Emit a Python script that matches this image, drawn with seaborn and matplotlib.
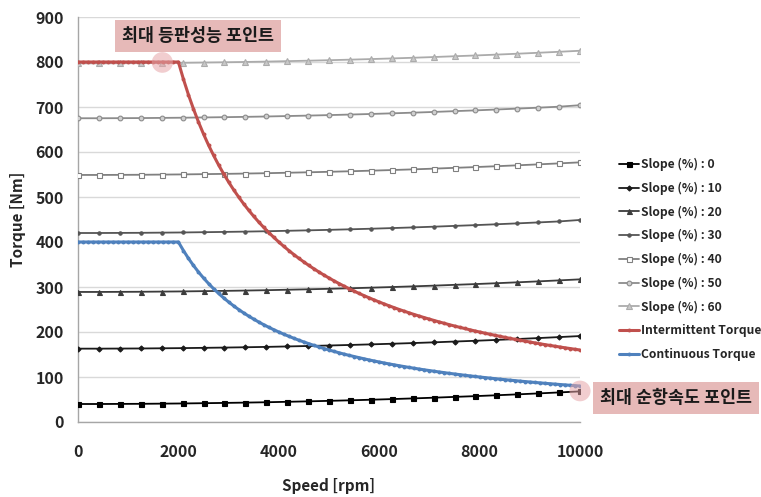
import matplotlib
matplotlib.use("Agg")
import matplotlib.pyplot as plt
from matplotlib.patches import Ellipse
import seaborn as sns

sns.set_theme(style="white")
plt.rcParams['font.family'] = ['Noto Sans CJK KR', 'DejaVu Sans']
plt.rcParams['font.weight'] = 'bold'

# ---- data ---------------------------------------------------------------
slope_speed = [0, 417, 833, 1250, 1667, 2083, 2500, 2917, 3333, 3750, 4167, 4583,
               5000, 5417, 5833, 6250, 6667, 7083, 7500, 7917, 8333, 8750, 9167,
               9583, 10000]

slope_0 = [40, 40, 40.2, 40.4, 40.8, 41.2, 41.8, 42.4, 43.1, 43.9, 44.9, 45.9, 47,
           48.2, 49.5, 50.9, 52.4, 54, 55.8, 57.5, 59.4, 61.4, 63.5, 65.7, 68]
slope_10 = [163, 163, 163.2, 163.4, 163.8, 164.2, 164.8, 165.4, 166.1, 166.9, 167.9,
            168.9, 170, 171.2, 172.5, 173.9, 175.4, 177, 178.8, 180.5, 182.4, 184.4,
            186.5, 188.7, 191]
slope_20 = [289, 289, 289.2, 289.4, 289.8, 290.2, 290.8, 291.4, 292.1, 292.9, 293.9,
            294.9, 296, 297.2, 298.5, 299.9, 301.4, 303, 304.8, 306.5, 308.4, 310.4,
            312.5, 314.7, 317]
slope_30 = [420, 420, 420.2, 420.4, 420.8, 421.2, 421.8, 422.4, 423.1, 423.9, 424.9,
            425.9, 427, 428.2, 429.5, 430.9, 432.4, 434, 435.8, 437.5, 439.4, 441.4,
            443.5, 445.7, 449]
slope_40 = [549, 549, 549.2, 549.4, 549.8, 550.2, 550.8, 551.4, 552.1, 552.9, 553.9,
            554.9, 556, 557.2, 558.5, 559.9, 561.4, 563, 564.8, 566.5, 568.4, 570.4,
            572.5, 574.7, 577]
slope_50 = [675, 675, 675.2, 675.4, 675.8, 676.2, 676.8, 677.4, 678.1, 678.9, 679.9,
            680.9, 682, 683.2, 684.5, 685.9, 687.4, 689, 690.8, 692.5, 694.4, 696.4,
            698.5, 700.7, 704]
slope_60 = [797, 797, 797.2, 797.4, 797.8, 798.2, 798.8, 799.4, 800.1, 800.9, 801.9,
            802.9, 804, 805.2, 806.5, 807.9, 809.4, 811, 812.8, 814.5, 816.4, 818.4,
            820.5, 822.7, 825]

torque_speed = list(range(0, 10001, 100))

intermittent_torque = [
    800, 800, 800, 800, 800, 800, 800, 800, 800, 800,
    800, 800, 800, 800, 800, 800, 800, 800, 800, 800, 800,
    761.9, 727.3, 695.7, 666.7, 640.0, 615.4, 592.6, 571.4, 551.7, 533.3,
    516.1, 500.0, 484.8, 470.6, 457.1, 444.4, 432.4, 421.1, 410.3, 400.0,
    390.2, 381.0, 372.1, 363.6, 355.6, 347.8, 340.4, 333.3, 326.5, 320.0,
    313.7, 307.7, 301.9, 296.3, 290.9, 285.7, 280.7, 275.9, 271.2, 266.7,
    262.3, 258.1, 254.0, 250.0, 246.2, 242.4, 238.8, 235.3, 231.9, 228.6,
    225.4, 222.2, 219.2, 216.2, 213.3, 210.5, 207.8, 205.1, 202.5, 200.0,
    197.5, 195.1, 192.8, 190.5, 188.2, 186.0, 183.9, 181.8, 179.8, 177.8,
    175.8, 173.9, 172.0, 170.2, 168.4, 166.7, 164.9, 163.3, 161.6, 160.0]

continuous_torque = [
    400, 400, 400, 400, 400, 400, 400, 400, 400, 400,
    400, 400, 400, 400, 400, 400, 400, 400, 400, 400, 400,
    381.0, 363.6, 347.8, 333.3, 320.0, 307.7, 296.3, 285.7, 275.9, 266.7,
    258.1, 250.0, 242.4, 235.3, 228.6, 222.2, 216.2, 210.5, 205.1, 200.0,
    195.1, 190.5, 186.0, 181.8, 177.8, 173.9, 170.2, 166.7, 163.3, 160.0,
    156.9, 153.8, 150.9, 148.1, 145.5, 142.9, 140.4, 137.9, 135.6, 133.3,
    131.1, 129.0, 127.0, 125.0, 123.1, 121.2, 119.4, 117.6, 115.9, 114.3,
    112.7, 111.1, 109.6, 108.1, 106.7, 105.3, 103.9, 102.6, 101.3, 100.0,
    98.8, 97.6, 96.4, 95.2, 94.1, 93.0, 92.0, 90.9, 89.9, 88.9,
    87.9, 87.0, 86.0, 85.1, 84.2, 83.3, 82.5, 81.6, 80.8, 80.0]

slope_labels = ["Slope (%) : 0", "Slope (%) : 10", "Slope (%) : 20", "Slope (%) : 30",
                "Slope (%) : 40", "Slope (%) : 50", "Slope (%) : 60"]
x_ticks = [0, 2000, 4000, 6000, 8000, 10000]
y_ticks = [0, 100, 200, 300, 400, 500, 600, 700, 800, 900]

# ---- figure -------------------------------------------------------------
fig = plt.figure(figsize=(7.61, 4.97), dpi=100)
ax = fig.add_axes([78 / 761, 1 - 422 / 497, 502 / 761, 405 / 497])

slope_series = [slope_0, slope_10, slope_20, slope_30, slope_40, slope_50, slope_60]
slope_styles = [
    dict(color="#000000", marker="s", markersize=3.6, mfc="#000000"),
    dict(color="#1a1a1a", marker="D", markersize=2.6, mfc="#1a1a1a"),
    dict(color="#3c3c3c", marker="^", markersize=3.6, mfc="#3c3c3c"),
    dict(color="#555555", marker="o", markersize=2.4, mfc="#555555"),
    dict(color="#808080", marker="s", markersize=3.6, mfc="white"),
    dict(color="#8c8c8c", marker="o", markersize=3.4, mfc="#d0d0d0"),
    dict(color="#ababab", marker="^", markersize=3.8, mfc="#c8c8c8"),
]

for vals, lab, st in zip(slope_series, slope_labels, slope_styles):
    sns.lineplot(x=slope_speed, y=vals, ax=ax, color=st["color"], marker=st["marker"],
                 markersize=st["markersize"], markerfacecolor=st["mfc"],
                 markeredgecolor=st["color"], markeredgewidth=0.8, linewidth=1.3,
                 label=lab, zorder=3)

sns.lineplot(x=torque_speed, y=intermittent_torque, ax=ax, color="#c0504d",
             marker="o", markersize=2.8, markeredgewidth=0, linewidth=2.2,
             label="Intermittent Torque", zorder=4)
sns.lineplot(x=torque_speed, y=continuous_torque, ax=ax, color="#4f81bd",
             marker="o", markersize=2.8, markeredgewidth=0, linewidth=2.2,
             label="Continuous Torque", zorder=4)

# highlight circles
ax.add_patch(Ellipse((1680, 799), width=420, height=46, facecolor="#e6a5a8",
                     alpha=0.55, edgecolor="none", zorder=5))
ax.add_patch(Ellipse((10000, 69), width=420, height=46, facecolor="#e6a5a8",
                     alpha=0.55, edgecolor="none", zorder=5, clip_on=False))

# axes styling
ax.set_xlim(0, 10000)
ax.set_ylim(0, 900)
ax.set_xticks(x_ticks)
ax.set_yticks(y_ticks)
ax.grid(axis="y", color="#d9d9d9", linewidth=1.0)
ax.set_axisbelow(True)
for s in ["top", "right"]:
    ax.spines[s].set_visible(False)
for s in ["left", "bottom"]:
    ax.spines[s].set_color("#a6a6a6")
    ax.spines[s].set_linewidth(1.0)
ax.tick_params(axis="both", which="major", direction="out", length=5, width=1,
               color="#a6a6a6", labelsize=11.5, pad=5)
for lab in ax.get_xticklabels() + ax.get_yticklabels():
    lab.set_fontweight("bold")
ax.tick_params(axis="x", pad=11)

ax.set_xlabel("Speed [rpm]", fontsize=11, fontweight="bold", labelpad=13)
ax.set_ylabel("Torque [Nm]", fontsize=11, fontweight="bold", labelpad=7)

# legend outside right
h, l = ax.get_legend_handles_labels()
if ax.legend_:
    ax.legend_.remove()
fig.legend(h, l, loc="upper left", bbox_to_anchor=(614 / 761, 1 - 153 / 497),
           frameon=False, handlelength=1.7, handletextpad=0.1,
           labelspacing=0.88, borderaxespad=0, prop={"weight": "bold", "size": 8.7})

# annotation boxes
fig.text(198 / 761, 1 - 36 / 497, "최대 등판성능 포인트", ha="center", va="center",
         fontsize=12.5, fontweight="bold", color="#1a1a1a",
         bbox=dict(boxstyle="square,pad=0.4", facecolor="#e6b9b8", edgecolor="none"))
fig.text(676 / 761, 1 - 398 / 497, "최대 순항속도 포인트", ha="center", va="center",
         fontsize=12.5, fontweight="bold", color="#1a1a1a",
         bbox=dict(boxstyle="square,pad=0.4", facecolor="#e6b9b8", edgecolor="none"))

fig.savefig("out.png", dpi=100)
